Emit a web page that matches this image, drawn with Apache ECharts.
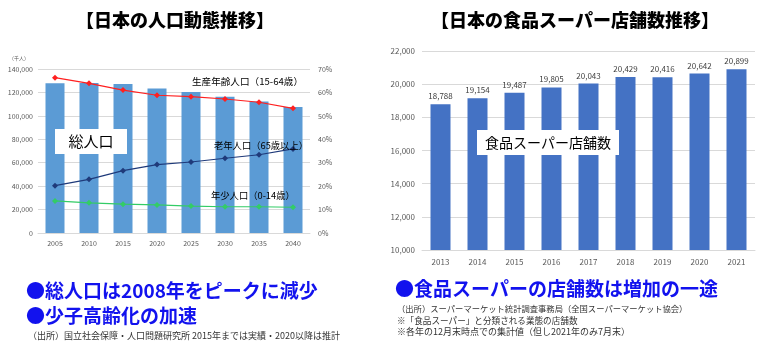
<!DOCTYPE html>
<html>
<head>
<meta charset="utf-8">
<script src="https://cdn.jsdelivr.net/npm/echarts@6/dist/echarts.min.js"></script>
<style>
  html, body { margin: 0; padding: 0; background: #fff; }
  #main { width: 780px; height: 348px; }
</style>
</head>
<body>
<div id="main"></div>
<script>
// Population chart (thousands of people, and share by age group in %)
const popYears = ['2005', '2010', '2015', '2020', '2025', '2030', '2035', '2040'];
const totalPop = [127800, 128100, 127100, 123400, 120300, 116300, 112300, 107500];
const workingAgeShare = [66.3, 63.9, 61.0, 58.8, 58.2, 57.2, 55.8, 53.2];
const elderlyShare = [20.2, 22.9, 26.6, 29.2, 30.3, 31.9, 33.4, 35.9];
const childShare = [13.7, 12.9, 12.3, 12.0, 11.5, 11.2, 11.2, 11.0];

// Supermarket store count chart
const storeYears = ['2013', '2014', '2015', '2016', '2017', '2018', '2019', '2020', '2021'];
const storeCounts = [18788, 19154, 19487, 19805, 20043, 20429, 20416, 20642, 20899];

const FONT = '"Noto Sans CJK JP", "Noto Sans", sans-serif';
const axisText = { color: '#595959', fontSize: 7, fontFamily: FONT };
const gridLine = { lineStyle: { color: '#D9D9D9', width: 1 } };

const chart = echarts.init(document.getElementById('main'), null, { renderer: 'canvas' });

function lineSeries(name, data, color) {
  return {
    name, type: 'line', xAxisIndex: 0, yAxisIndex: 1, data,
    symbol: 'diamond', symbolSize: 6, showSymbol: true,
    lineStyle: { color, width: 1.2 },
    itemStyle: { color },
    z: 5
  };
}

// White boxed caption drawn on top of the bars
function labelBox(x, y, w, h, text, size) {
  return {
    type: 'rect', left: x, top: y, z: 100, zlevel: 1,
    shape: { x: 0, y: 0, width: w, height: h }, style: { fill: '#fff' },
    textContent: { style: { text, fill: '#000', font: `${size}px ${FONT}` }, z: 101, zlevel: 1 },
    textConfig: { position: 'inside' }
  };
}

function plainText(x, y, text, size, color, weight) {
  return {
    type: 'text', left: x, top: y, z: 100, zlevel: 1,
    style: { text, fill: color, font: `${weight || 'normal'} ${size}px ${FONT}` }
  };
}

const option = {
  animation: false,
  backgroundColor: '#fff',
  title: [
    { text: '【日本の人口動態推移】', left: 170, top: 6, textAlign: 'center',
      textStyle: { fontFamily: FONT, fontSize: 18, fontWeight: 900, color: '#000' } },
    { text: '【日本の食品スーパー店舗数推移】', left: 570, top: 6, textAlign: 'center',
      textStyle: { fontFamily: FONT, fontSize: 18, fontWeight: 900, color: '#000' } }
  ],
  grid: [
    { left: 38, right: 470, top: 69, bottom: 115 },
    { left: 422, right: 25, top: 51, bottom: 98 }
  ],
  xAxis: [
    { type: 'category', gridIndex: 0, data: popYears,
      axisLine: { lineStyle: { color: '#D9D9D9' } }, axisTick: { show: false },
      axisLabel: { ...axisText, margin: 7 } },
    { type: 'category', gridIndex: 1, data: storeYears,
      axisLine: { lineStyle: { color: '#D9D9D9' } }, axisTick: { show: false },
      axisLabel: { ...axisText, fontSize: 8, margin: 8 } }
  ],
  yAxis: [
    { type: 'value', gridIndex: 0, min: 0, max: 140000, interval: 20000,
      axisLine: { show: false }, axisTick: { show: false }, splitLine: gridLine,
      axisLabel: { ...axisText, margin: 5, formatter: v => v.toLocaleString('en-US') } },
    { type: 'value', gridIndex: 0, position: 'right', min: 0, max: 70, interval: 10,
      axisLine: { show: false }, axisTick: { show: false }, splitLine: { show: false },
      axisLabel: { ...axisText, margin: 8, formatter: '{value}%' } },
    { type: 'value', gridIndex: 1, min: 10000, max: 22000, interval: 2000,
      axisLine: { show: false }, axisTick: { show: false }, splitLine: gridLine,
      axisLabel: { ...axisText, fontSize: 8, margin: 7, formatter: v => v.toLocaleString('en-US') } }
  ],
  series: [
    { name: '総人口', type: 'bar', xAxisIndex: 0, yAxisIndex: 0, data: totalPop,
      barWidth: 19, itemStyle: { color: '#5B9BD5' }, z: 2 },
    lineSeries('生産年齢人口（15-64歳）', workingAgeShare, '#FF2020'),
    lineSeries('老年人口（65歳以上）', elderlyShare, '#1F3A7A'),
    lineSeries('年少人口（0-14歳）', childShare, '#33CC66'),
    { name: '店舗数', type: 'bar', xAxisIndex: 1, yAxisIndex: 2, data: storeCounts,
      barWidth: 20, itemStyle: { color: '#4472C4' },
      label: { show: true, position: 'top', distance: 4, color: '#404040', fontSize: 8, fontFamily: FONT,
        formatter: p => p.value.toLocaleString('en-US') } }
  ],
  graphic: [
    plainText(9, 56, '（千人）', 5, '#595959'),
    labelBox(55, 129, 72, 25, '総人口', 15),
    labelBox(477, 130, 142, 25, '食品スーパー店舗数', 14),
    plainText(192, 77, '生産年齢人口（15-64歳）', 9.6, '#000'),
    plainText(214, 141, '老年人口（65歳以上）', 9.3, '#000'),
    plainText(211, 191, '年少人口（0-14歳）', 9.3, '#000'),
    plainText(26, 281, '●総人口は2008年をピークに減少', 19, '#1212EE', 'bold'),
    plainText(26, 306, '●少子高齢化の加速', 19, '#1212EE', 'bold'),
    plainText(28, 331, '（出所）国立社会保障・人口問題研究所 2015年までは実績・2020以降は推計', 9, '#333'),
    plainText(395, 279, '●食品スーパーの店舗数は増加の一途', 19, '#1212EE', 'bold'),
    plainText(397, 305, '（出所）スーパーマーケット統計調査事務局（全国スーパーマーケット協会）', 8.3, '#333'),
    plainText(397, 316, '※「食品スーパー」と分類される業態の店舗数', 8.6, '#333'),
    plainText(397, 327, '※各年の12月末時点での集計値（但し2021年のみ7月末）', 9, '#333')
  ]
};

chart.setOption(option);
</script>
</body>
</html>
